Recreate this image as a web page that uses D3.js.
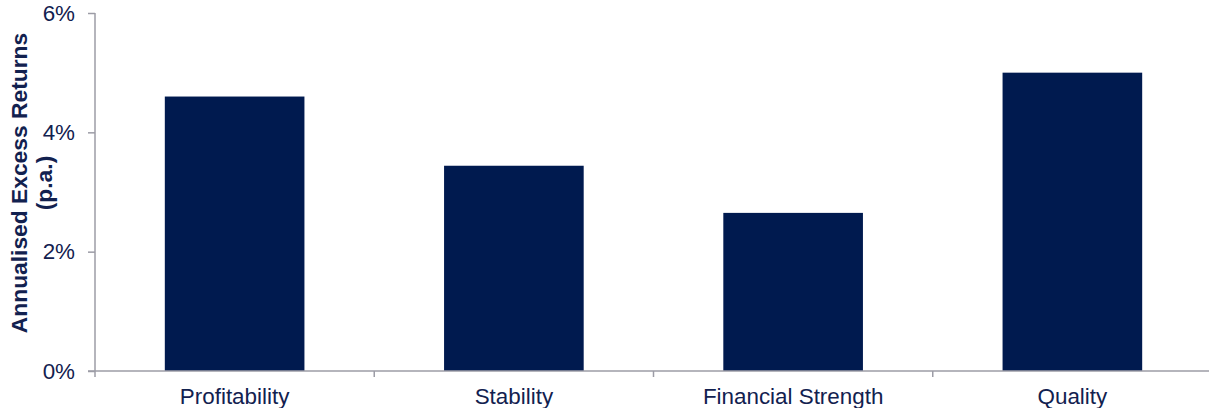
<!DOCTYPE html>
<html>
<head>
<meta charset="utf-8">
<script src="https://cdn.jsdelivr.net/npm/d3@7"></script>
<style>
  html, body { margin: 0; padding: 0; background: #fff; }
  svg { display: block; }
  text { font-family: "Liberation Sans", Arial, sans-serif; }
</style>
</head>
<body>
<svg id="chart" width="1209" height="408"></svg>
<script>
const categories = ["Profitability", "Stability", "Financial Strength", "Quality"];
const values = [4.6, 3.44, 2.65, 5.0];
const yTicks = [0, 2, 4, 6];
const yTitleLines = ["Annualised Excess Returns", "(p.a.)"];

const W = 1209, H = 408;
const mLeft = 95, mRight = 1212, mTop = 13, mBottom = 371;
const textColor = "#12214F";
const barColor = "#001A4F";
const axisColor = "#9C9CA6";

const svg = d3.select("#chart");

const x = d3.scaleBand().domain(categories).range([mLeft, mRight]).paddingInner(0.5).paddingOuter(0.25);
const xb = d3.scaleBand().domain(categories).range([mLeft, mRight]);
const y = d3.scaleLinear().domain([0, 6]).range([mBottom, mTop]);

// bars
svg.append("g").selectAll("rect").data(values).join("rect")
  .attr("x", (d, i) => x(categories[i]))
  .attr("width", x.bandwidth())
  .attr("y", d => y(d))
  .attr("height", d => y(0) - y(d))
  .attr("fill", barColor);

// y axis
const yAxis = svg.append("g").attr("transform", `translate(${mLeft},0)`)
  .call(d3.axisLeft(y).tickValues(yTicks).tickFormat(d => d + "%").tickSize(7).tickPadding(13));
yAxis.select(".domain").attr("stroke", axisColor).attr("stroke-width", 1.5).attr("d", `M0,${mTop}V${mBottom}`);
yAxis.selectAll(".tick line").attr("stroke", axisColor).attr("stroke-width", 1.5);
yAxis.selectAll(".tick text").attr("fill", textColor).style("font-size", "22.4px")
  .style("font-family", "'Liberation Sans', Arial, sans-serif");

// x axis
const boundaries = d3.range(categories.length + 1).map(i => mLeft + i * xb.step());
const xg = svg.append("g");
xg.append("line").attr("x1", mLeft - 7).attr("x2", W + 5).attr("y1", mBottom).attr("y2", mBottom)
  .attr("stroke", axisColor).attr("stroke-width", 1.5);
xg.selectAll("line.tk").data(boundaries).join("line").attr("class", "tk")
  .attr("x1", d => d).attr("x2", d => d).attr("y1", mBottom).attr("y2", mBottom + 6)
  .attr("stroke", axisColor).attr("stroke-width", 1.5);
xg.selectAll("text").data(categories).join("text")
  .attr("x", d => xb(d) + xb.bandwidth() / 2)
  .attr("y", 404)
  .attr("text-anchor", "middle")
  .attr("fill", textColor)
  .style("font-size", "22.4px")
  .text(d => d);

// y title
const yt = svg.append("text")
  .attr("transform", "translate(0,183) rotate(-90)")
  .attr("text-anchor", "middle")
  .attr("fill", textColor)
  .style("font-size", "22.8px")
  .style("font-weight", "bold");
yt.selectAll("tspan").data(yTitleLines).join("tspan")
  .attr("x", 0)
  .attr("y", (d, i) => 27 + i * 25)
  .text(d => d);
</script>
</body>
</html>
